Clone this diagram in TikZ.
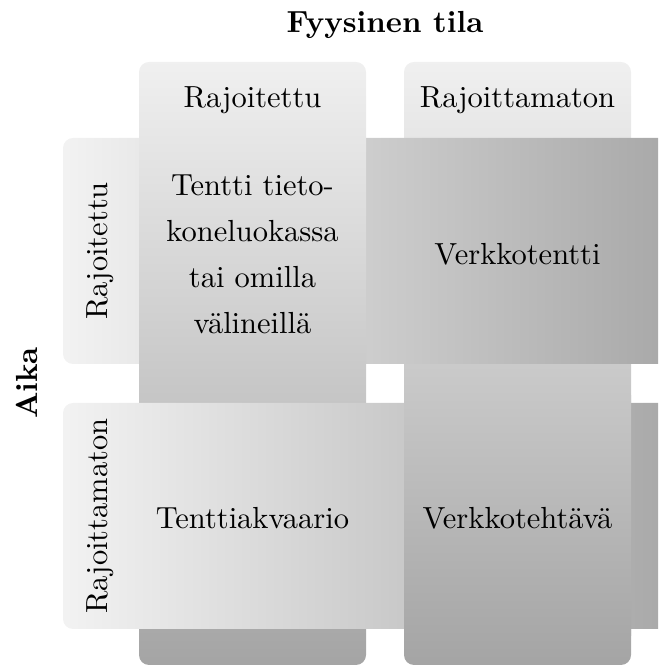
\documentclass[tikz,border=0pt]{standalone}
\definecolor{gtop}{gray}{0.94}
\definecolor{gbot}{gray}{0.645}
\definecolor{rtop}{gray}{0.95}
\definecolor{rbot}{gray}{0.65}
\tikzset{
  lbl/.style={font=\fontsize{10}{15.1}\selectfont, align=center, inner sep=0pt, text=black, scale=3.05},
  ttl/.style={font=\fontsize{10}{12}\selectfont\bfseries, inner sep=0pt, text=black, scale=3.05},
  colbar/.style={rounded corners=10pt, top color=gtop, bottom color=gbot, draw=none},
  rowbar/.style={rounded corners=10pt, left color=rtop, right color=rbot, draw=none},
}
\begin{document}
\begin{tikzpicture}[x=1pt,y=1pt]
\useasboundingbox (0,0) rectangle (658,666);
\clip (0,0) rectangle (658,666);
% weave: column 2, row 1, column 1, row 2, column 2 over row 2
\shade[colbar] (404,1) rectangle (631,604);
\shade[rowbar] (63,302) rectangle (690,528);
\shade[colbar] (139,1) rectangle (366,604);
\shade[rowbar] (63,37) rectangle (690,263);
\begin{scope}
  \clip (380,30) rectangle (658,270);
  \shade[colbar] (404,1) rectangle (631,604);
\end{scope}
% titles
\node[ttl, anchor=base] (fyys) at (385,633) {Fyysinen tila};
\node[ttl, rotate=90] (aika) at (27,283) {Aika};
% headers
\node[lbl] (c1h) at (252.5,566) {Rajoitettu};
\node[lbl] (c2h) at (517.5,566) {Rajoittamaton};
\node[lbl, rotate=90] (r1h) at (100,415) {Rajoitettu};
\node[lbl, rotate=90] (r2h) at (100,150) {Rajoittamaton};
% cells
\node[lbl] (c11) at (252.5,412) {Tentti tieto-\\koneluokassa\\tai omilla\\välineillä};
\node[lbl] (c21) at (517.5,412) {Verkkotentti};
\node[lbl] (c12) at (252.5,148) {Tenttiakvaario};
\node[lbl] (c22) at (517.5,148) {Verkkotehtävä};
\end{tikzpicture}
\end{document}
